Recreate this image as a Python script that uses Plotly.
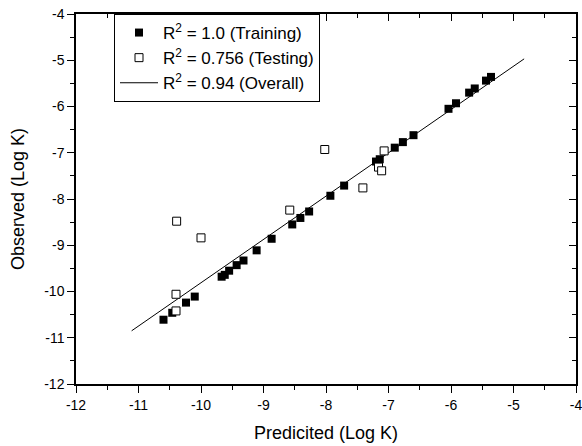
import plotly.graph_objects as go

# Training set (predicted, observed)
train_pred = [-10.60, -10.46, -10.24, -10.10, -9.67, -9.62, -9.55, -9.43, -9.32, -9.11,
              -8.87, -8.54, -8.41, -8.27, -7.93, -7.71, -7.20, -7.14, -6.90, -6.77,
              -6.60, -6.04, -5.92, -5.71, -5.62, -5.44, -5.36]
train_obs = [-10.61, -10.46, -10.24, -10.11, -9.68, -9.64, -9.55, -9.43, -9.33, -9.11,
             -8.86, -8.55, -8.41, -8.27, -7.93, -7.71, -7.19, -7.14, -6.89, -6.77,
             -6.62, -6.05, -5.93, -5.70, -5.61, -5.44, -5.36]

# Testing set
test_pred = [-10.40, -10.40, -10.39, -10.00, -8.58, -8.02, -7.41, -7.16, -7.11, -7.07]
test_obs = [-10.42, -10.06, -8.48, -8.84, -8.24, -6.93, -7.76, -7.31, -7.39, -6.96]

# Overall fit line end points
fit_x = [-11.11, -4.83]
fit_y = [-10.85, -4.97]

names = ["R<sup>2</sup> = 1.0 (Training)", "R<sup>2</sup> = 0.756 (Testing)",
         "R<sup>2</sup> = 0.94 (Overall)"]

tick_vals = [-12, -11, -10, -9, -8, -7, -6, -5, -4]
tick_text = ["-12", "-11", "-10", "-9", "-8", "-7", "-6", "-5", "-4"]
x_range = [-12, -4]
y_range = [-12, -4]

FONT = "Liberation Sans, Arial, sans-serif"

fig = go.Figure()
fig.add_trace(go.Scatter(x=fit_x, y=fit_y, mode="lines", name=names[2],
                         line=dict(color="black", width=1), legendrank=3))
fig.add_trace(go.Scatter(x=train_pred, y=train_obs, mode="markers", name=names[0],
                         marker=dict(symbol="square", size=8, color="black",
                                     line=dict(width=0)), legendrank=1))
fig.add_trace(go.Scatter(x=test_pred, y=test_obs, mode="markers", name=names[1],
                         marker=dict(symbol="square", size=8, color="white",
                                     line=dict(color="black", width=1)), legendrank=2))
# dummy trace to activate mirror axes
fig.add_trace(go.Scatter(x=[None], y=[None], xaxis="x2", yaxis="y2",
                         showlegend=False, hoverinfo="skip"))


def axis(ticks, labels, **kw):
    d = dict(showgrid=False, zeroline=False, showline=True, automargin=False,
             linecolor="black", linewidth=1.5, ticks=ticks, ticklen=7,
             tickwidth=1.2, tickcolor="black", tickmode="array",
             tickvals=tick_vals, ticktext=tick_text, showticklabels=labels,
             ticklabeloverflow="allow",
             minor=dict(ticks=ticks, ticklen=4, tickmode="linear", tick0=-12, dtick=0.5,
                        tickcolor="black", tickwidth=1))
    d.update(kw)
    return d


fig.update_layout(
    width=582, height=446,
    margin=dict(l=76, r=6, t=14, b=62, autoexpand=False),
    paper_bgcolor="white", plot_bgcolor="white",
    font=dict(family=FONT, color="black", size=14),
    showlegend=True,
    legend=dict(x=0.076, y=1, xanchor="left", yanchor="top",
                bgcolor="white", bordercolor="black", borderwidth=1,
                font=dict(size=17, family=FONT), tracegroupgap=0, itemwidth=38),
    xaxis=axis("outside", True, range=x_range, tickfont=dict(size=14),
               title=dict(text="Predicited (Log K)", font=dict(size=18))),
    yaxis=axis("outside", True, range=y_range, tickfont=dict(size=14),
               title=dict(text="Observed (Log K)", font=dict(size=18))),
    xaxis2=axis("inside", False, range=x_range, overlaying="x", side="top"),
    yaxis2=axis("inside", False, range=y_range, overlaying="y", side="right"),
)

fig.write_html("out.html", config={"displayModeBar": False},
               post_script="document.body.style.margin='0px';document.body.style.overflow='hidden';")
